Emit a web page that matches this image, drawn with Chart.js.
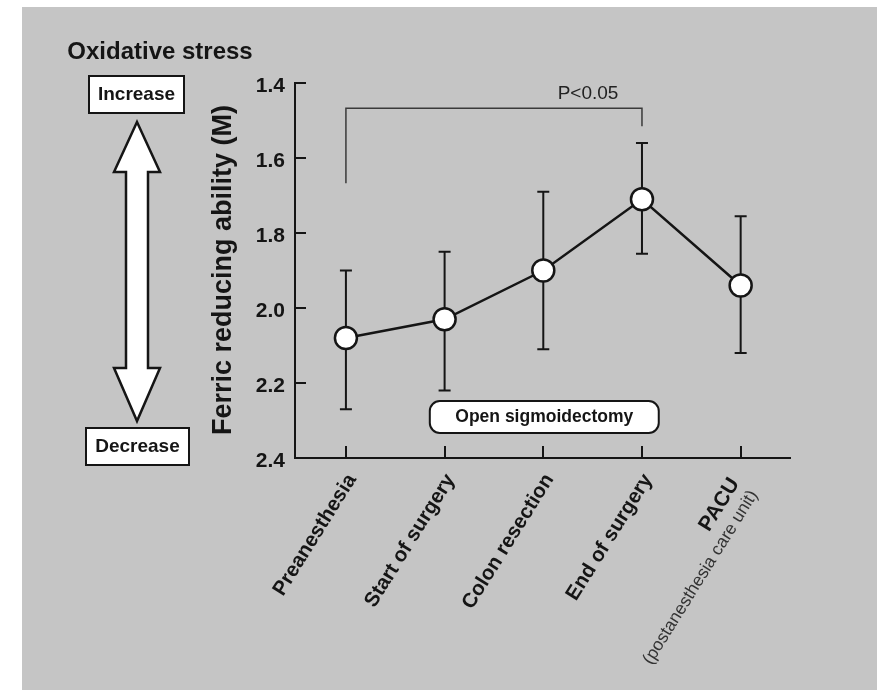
<!DOCTYPE html>
<html>
<head>
<meta charset="utf-8">
<script src="https://cdn.jsdelivr.net/npm/chart.js@4.4.1/dist/chart.umd.min.js"></script>
<style>
  html, body { margin: 0; padding: 0; background: #ffffff; }
  #c { display: block; }
</style>
</head>
<body>
<canvas id="c" width="878" height="690"></canvas>
<script>
// ---- data ----
const categories = ['Preanesthesia', 'Start of surgery', 'Colon resection', 'End of surgery', 'PACU'];
const subLabels = ['', '', '', '', '(postanesthesia care unit)'];
const means = [2.08, 2.03, 1.90, 1.71, 1.94];
const errLow = [1.90, 1.85, 1.69, 1.56, 1.755];   // upper whisker (smaller value, reversed axis)
const errHigh = [2.27, 2.22, 2.11, 1.855, 2.12];  // lower whisker
const yTicks = [1.4, 1.6, 1.8, 2.0, 2.2, 2.4];
const yTitle = 'Ferric reducing ability (M)';
const pText = 'P<0.05';
const procText = 'Open sigmoidectomy';

const FONT = '"Liberation Sans", Arial, Helvetica, sans-serif';
const INK = '#151515';

function roundRect(ctx, x, y, w, h, r) {
  ctx.beginPath();
  ctx.moveTo(x + r, y);
  ctx.lineTo(x + w - r, y);
  ctx.arcTo(x + w, y, x + w, y + r, r);
  ctx.lineTo(x + w, y + h - r);
  ctx.arcTo(x + w, y + h, x + w - r, y + h, r);
  ctx.lineTo(x + r, y + h);
  ctx.arcTo(x, y + h, x, y + h - r, r);
  ctx.lineTo(x, y + r);
  ctx.arcTo(x, y, x + r, y, r);
  ctx.closePath();
}

const decor = {
  id: 'decor',
  beforeDraw(chart) {
    const ctx = chart.ctx;
    ctx.save();
    ctx.fillStyle = '#c5c5c5';
    ctx.fillRect(22, 7, 855, 683);
    ctx.restore();
  },
  beforeDatasetsDraw(chart) {
    const ctx = chart.ctx, xs = chart.scales.x, ys = chart.scales.y;
    ctx.save();
    ctx.strokeStyle = INK;
    ctx.lineWidth = 2;
    means.forEach((m, i) => {
      const px = xs.getPixelForValue(i);
      const y1 = ys.getPixelForValue(errLow[i]);
      const y2 = ys.getPixelForValue(errHigh[i]);
      ctx.beginPath();
      ctx.moveTo(px, y1); ctx.lineTo(px, y2);
      ctx.moveTo(px - 6, y1); ctx.lineTo(px + 6, y1);
      ctx.moveTo(px - 6, y2); ctx.lineTo(px + 6, y2);
      ctx.stroke();
    });
    ctx.restore();
  },
  afterDraw(chart) {
    const ctx = chart.ctx, xs = chart.scales.x, ys = chart.scales.y;
    const area = chart.chartArea;
    ctx.save();
    // inward tick marks
    ctx.strokeStyle = INK;
    ctx.lineWidth = 2;
    yTicks.forEach(v => {
      const py = Math.round(ys.getPixelForValue(v));
      ctx.beginPath();
      ctx.moveTo(area.left, py); ctx.lineTo(area.left + 11, py);
      ctx.stroke();
    });
    categories.forEach((c, i) => {
      const px = Math.round(xs.getPixelForValue(i));
      ctx.beginPath();
      ctx.moveTo(px, area.bottom); ctx.lineTo(px, area.bottom - 12);
      ctx.stroke();
    });

    // rotated category labels
    const ang = -58 * Math.PI / 180;
    ctx.fillStyle = INK;
    categories.forEach((c, i) => {
      const px = xs.getPixelForValue(i);
      ctx.save();
      if (subLabels[i]) {
        ctx.translate(px + 3.5, area.bottom + 28);
        ctx.rotate(ang);
        ctx.textAlign = 'right';
        ctx.textBaseline = 'middle';
        ctx.font = 'bold 21px ' + FONT;
        ctx.fillStyle = INK;
        ctx.fillText(c, 0, -11);
        ctx.font = '17.5px ' + FONT;
        ctx.fillStyle = '#333';
        ctx.fillText(subLabels[i], 0, 11.5);
      } else {
        ctx.translate(px + 6, area.bottom + 18);
        ctx.rotate(ang);
        ctx.textAlign = 'right';
        ctx.textBaseline = 'middle';
        ctx.font = 'bold 20.5px ' + FONT;
        ctx.fillText(c, 0, 0);
      }
      ctx.restore();
    });

    // y-axis title
    ctx.save();
    ctx.translate(224, (area.top + area.bottom) / 2 - 0.5);
    ctx.rotate(-Math.PI / 2);
    ctx.textAlign = 'center';
    ctx.textBaseline = 'middle';
    ctx.font = 'bold 27px ' + FONT;
    ctx.fillStyle = INK;
    ctx.fillText(yTitle, 0, 0);
    ctx.restore();

    // significance bracket
    const bx1 = xs.getPixelForValue(0), bx2 = xs.getPixelForValue(3);
    const by = ys.getPixelForValue(1.467);
    ctx.strokeStyle = '#3a3a3a';
    ctx.lineWidth = 1.5;
    ctx.beginPath();
    ctx.moveTo(bx1, ys.getPixelForValue(1.667));
    ctx.lineTo(bx1, by);
    ctx.lineTo(bx2, by);
    ctx.lineTo(bx2, ys.getPixelForValue(1.515));
    ctx.stroke();
    ctx.fillStyle = '#222';
    ctx.font = '19px ' + FONT;
    ctx.textAlign = 'center';
    ctx.textBaseline = 'middle';
    ctx.fillText(pText, 588, 94);

    // procedure box
    const rx1 = xs.getPixelForValue(0.85), rx2 = xs.getPixelForValue(3.17);
    const ry1 = ys.getPixelForValue(2.248), ry2 = ys.getPixelForValue(2.333);
    roundRect(ctx, rx1, ry1, rx2 - rx1, ry2 - ry1, 10);
    ctx.fillStyle = '#ffffff';
    ctx.fill();
    ctx.strokeStyle = INK;
    ctx.lineWidth = 2;
    ctx.stroke();
    ctx.fillStyle = INK;
    ctx.font = 'bold 17.5px ' + FONT;
    ctx.fillText(procText, (rx1 + rx2) / 2, (ry1 + ry2) / 2 + 0.5);

    // oxidative stress legend
    ctx.font = 'bold 24px ' + FONT;
    ctx.fillText('Oxidative stress', 160, 52);

    ctx.lineWidth = 2;
    ctx.fillStyle = '#ffffff';
    ctx.fillRect(89, 76, 95, 37);
    ctx.strokeRect(89, 76, 95, 37);
    ctx.fillRect(86, 428, 103, 37);
    ctx.strokeRect(86, 428, 103, 37);
    ctx.fillStyle = INK;
    ctx.font = 'bold 19px ' + FONT;
    ctx.fillText('Increase', 136.5, 95);
    ctx.fillText('Decrease', 137.5, 447);

    // double arrow
    ctx.beginPath();
    ctx.moveTo(137, 122);
    ctx.lineTo(160, 172);
    ctx.lineTo(148, 172);
    ctx.lineTo(148, 368);
    ctx.lineTo(160, 368);
    ctx.lineTo(137, 421);
    ctx.lineTo(114, 368);
    ctx.lineTo(126, 368);
    ctx.lineTo(126, 172);
    ctx.lineTo(114, 172);
    ctx.closePath();
    ctx.fillStyle = '#ffffff';
    ctx.fill();
    ctx.lineJoin = 'miter';
    ctx.lineWidth = 2.5;
    ctx.strokeStyle = INK;
    ctx.stroke();

    ctx.restore();
  }
};

new Chart(document.getElementById('c'), {
  type: 'line',
  data: {
    datasets: [{
      data: means.map((v, i) => ({ x: i, y: v })),
      borderColor: INK,
      borderWidth: 2.5,
      pointRadius: 11,
      pointHoverRadius: 11,
      pointBorderWidth: 2.5,
      pointBackgroundColor: '#ffffff',
      pointBorderColor: INK,
      tension: 0,
      fill: false,
      clip: false
    }]
  },
  options: {
    responsive: false,
    animation: false,
    devicePixelRatio: 1,
    layout: { padding: { left: 0, top: 83, right: 88, bottom: 0 } },
    plugins: { legend: { display: false }, tooltip: { enabled: false } },
    scales: {
      x: {
        type: 'linear',
        min: -0.516,
        max: 4.5,
        grid: { display: false, drawTicks: false },
        border: { display: true, color: INK, width: 2 },
        ticks: { display: false },
        afterFit(scale) { scale.height = 232; }
      },
      y: {
        reverse: true,
        min: 1.4,
        max: 2.4,
        grid: { display: false, drawTicks: false },
        border: { display: true, color: INK, width: 2 },
        afterBuildTicks(scale) { scale.ticks = yTicks.map(v => ({ value: v })); },
        afterFit(scale) { scale.width = 295; },
        ticks: {
          padding: 10,
          labelOffset: 3,
          color: INK,
          font: { family: FONT, size: 21, weight: 'bold' },
          callback: v => Number(v).toFixed(1)
        }
      }
    }
  },
  plugins: [decor]
});
</script>
</body>
</html>
